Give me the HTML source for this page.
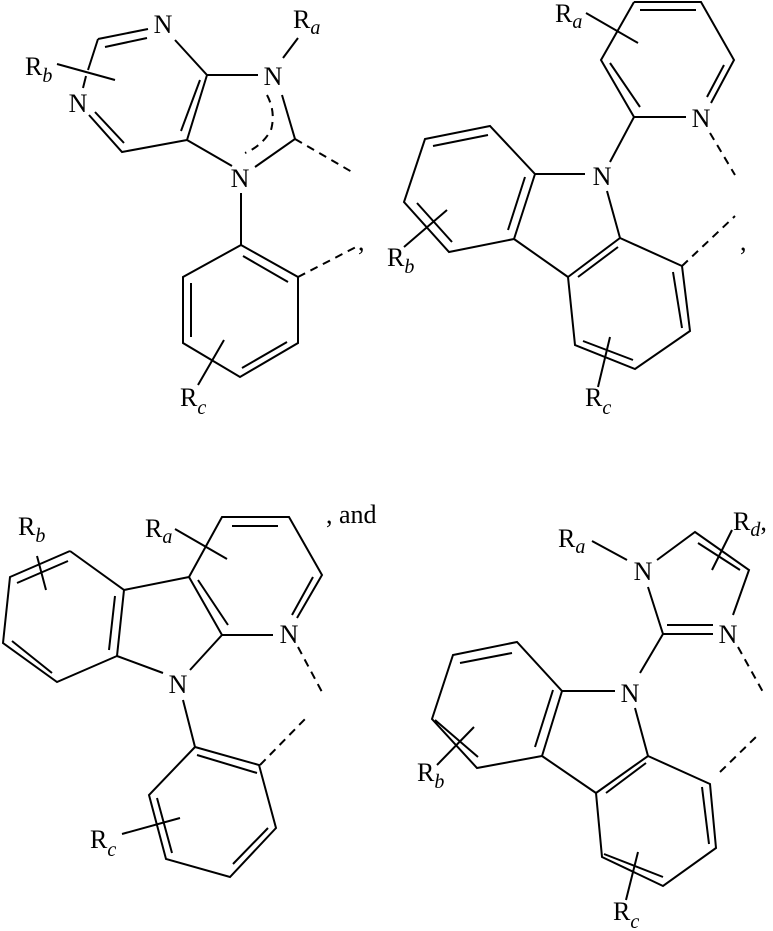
<!DOCTYPE html>
<html><head><meta charset="utf-8"><style>
html,body{margin:0;padding:0;background:#fff;}
svg{display:block}
text{font-family:"Liberation Serif",serif;font-size:26px;fill:#000}
.s{font-style:italic;font-size:20px}
</style></head><body>
<svg width="773" height="931" viewBox="0 0 773 931" xmlns="http://www.w3.org/2000/svg">
<g stroke="#000" stroke-width="2" fill="none" stroke-linecap="butt" stroke-linejoin="miter">
<!-- Structure 1 -->
<path d="M98,39 L148,29 M105,47 L147,38 M175,40 L207,75 L258,75 M207,75 L187,140 L122,152 L89,115 M200,80 L181,131 M124,143 L95,112 M98,39 L88,70 M187,140 L232,166 M255,167 L295,139 L282,95 M283,58 L298,38 M57,64 L115,80 M241,193 L241,245 M241,245 L298,277 L298,343 L240,377 L183,343 L183,277 L241,245 M243,256 L288,282 M287,342 L242,368 M191,283 L191,337 M224,340 L198,385"/>
<path d="M86,76 L83,88" />
<path d="M295,139 L352,172 M298,277 L356,247 M267,95 Q276,112 271,130 Q262,146 245,153" stroke-dasharray="8,6"/>
<!-- Structure 2 -->
<path d="M634,2 L701,2 L734,60 L711,103 M640,10 L696,10 M724,65 L707,97 M686,117 L634,117 L601,60 L634,2 M610,63 L640,107 M586,13 L638,43 M634,117 L610,162 M585,174 L535,174 L490,126 L425,139 L404,202 L449,252 L514,239 L535,174 M433,146 L488,135 M417,203 L452,242 M508,230 L525,177 M514,239 L568,277 M620,238 L607,191 M578,277 L618,247 M568,277 L620,238 L682,266 L690,331 L635,369 L575,345 L568,277 M673,272 L682,328 M583,341 L633,360 M404,247 L447,210 M610,337 L598,387"/>
<path d="M710,133 L735,175 M682,266 L735,216" stroke-dasharray="8,6"/>
<!-- Structure 3 -->
<path d="M70,551 L124,590 L117,656 L57,682 L3,643 L10,577 L70,551 M17,583 L68,561 M115,596 L109,650 M12,641 L52,673 M124,590 L189,577 L222,635 L273,635 M198,580 L228,625 M297,618 L322,575 L289,517 L222,517 L189,577 M292,615 L313,577 M232,526 L278,526 M175,529 L227,559 M117,656 L163,673 M222,635 L190,670 M183,700 L195,747 M195,747 L259,765 L276,828 L230,877 L166,859 L149,795 L195,747 M197,755 L257,773 M268,828 L233,864 M157,798 L172,853 M122,834 L180,818 M37,556 L46,590"/>
<path d="M298,647 L322,692 M260,765 L307,717" stroke-dasharray="8,6"/>
<!-- Structure 4 -->
<path d="M648,587 L663,634 L713,634 M667,625 L713,625 M733,615 L749,570 L695,532 L657,560 M698,543 L740,570 M712,570 L732,530 M592,541 L627,560 M663,634 L640,673 M615,691 L562,691 L517,642 L453,655 L432,719 L477,768 L542,756 L562,691 M460,663 L512,653 M435,720 L478,757 M535,747 L553,690 M542,756 L596,793 M648,756 L635,708 M606,793 L646,763 M596,793 L648,756 L710,784 L716,848 L663,886 L602,857 L596,793 M702,787 L709,844 M604,854 L663,877 M437,765 L474,727 M638,852 L626,900"/>
<path d="M738,647 L763,692 M720,772 L758,735" stroke-dasharray="8,6"/>
</g>
<!-- labels s1 -->
<text x="163" y="33" text-anchor="middle">N</text>
<text x="273" y="85" text-anchor="middle">N</text>
<text x="78" y="112" text-anchor="middle">N</text>
<text x="240" y="187" text-anchor="middle">N</text>
<text x="293" y="28">R<tspan class="s" dy="6">a</tspan></text>
<text x="25" y="75">R<tspan class="s" dy="7">b</tspan></text>
<text x="180" y="406">R<tspan class="s" dy="8">c</tspan></text>
<text x="358" y="250">,</text>
<!-- s2 -->
<text x="701" y="127" text-anchor="middle">N</text>
<text x="602" y="185" text-anchor="middle">N</text>
<text x="555" y="22">R<tspan class="s" dy="6">a</tspan></text>
<text x="387" y="266">R<tspan class="s" dy="7">b</tspan></text>
<text x="585" y="406">R<tspan class="s" dy="8">c</tspan></text>
<text x="740" y="250">,</text>
<!-- s3 -->
<text x="289" y="643" text-anchor="middle">N</text>
<text x="178" y="693" text-anchor="middle">N</text>
<text x="145" y="537">R<tspan class="s" dy="6">a</tspan></text>
<text x="18" y="535">R<tspan class="s" dy="7">b</tspan></text>
<text x="90" y="848">R<tspan class="s" dy="8">c</tspan></text>
<text x="326" y="523">,   and</text>
<!-- s4 -->
<text x="643" y="580" text-anchor="middle">N</text>
<text x="728" y="643" text-anchor="middle">N</text>
<text x="630" y="702" text-anchor="middle">N</text>
<text x="558" y="547">R<tspan class="s" dy="6">a</tspan></text>
<text x="733" y="530">R<tspan class="s" dy="6">d</tspan><tspan dy="-6">,</tspan></text>
<text x="417" y="781">R<tspan class="s" dy="7">b</tspan></text>
<text x="613" y="920">R<tspan class="s" dy="8">c</tspan></text>
</svg>
</body></html>
